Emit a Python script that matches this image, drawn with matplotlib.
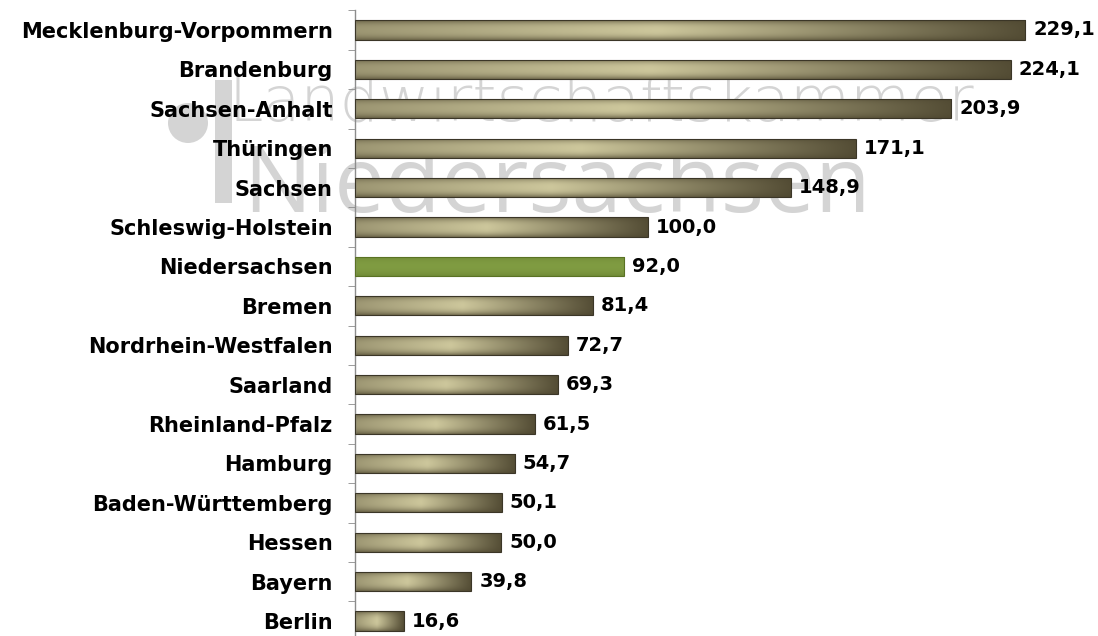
import numpy as np
import matplotlib
matplotlib.use('Agg')
import matplotlib.pyplot as plt
from matplotlib.patches import Ellipse, Rectangle

# values
states = ['Mecklenburg-Vorpommern', 'Brandenburg', 'Sachsen-Anhalt', 'Thüringen',
          'Sachsen', 'Schleswig-Holstein', 'Niedersachsen', 'Bremen',
          'Nordrhein-Westfalen', 'Saarland', 'Rheinland-Pfalz', 'Hamburg',
          'Baden-Württemberg', 'Hessen', 'Bayern', 'Berlin']
values = [229.1, 224.1, 203.9, 171.1, 148.9, 100.0, 92.0, 81.4,
          72.7, 69.3, 61.5, 54.7, 50.1, 50.0, 39.8, 16.6]
highlight = 'Niedersachsen'

W, H = 1098, 636
fig = plt.figure(figsize=(W / 100, H / 100), dpi=100)
fig.patch.set_facecolor('white')

def px(x, y):
    return x / W, 1 - y / H

# watermark (logo) behind the chart
wm = '#d4d4d4'
fig.patches.append(Ellipse(px(188, 123), 40 / W, 40 / H, transform=fig.transFigure,
                           facecolor=wm, edgecolor='none', zorder=-2))
fig.patches.append(Rectangle(px(215, 203), 17 / W, 123 / H, transform=fig.transFigure,
                             facecolor=wm, edgecolor='none', zorder=-2))
t1 = fig.text(*px(228, 121), 'Landwirtschaftskammer', fontsize=30, color=wm,
              family='DejaVu Sans', fontweight='light', ha='left', va='baseline',
              zorder=-2)
t2 = fig.text(*px(243, 212), 'Niedersachsen', fontsize=60, color=wm,
              family='Open Sans', ha='left', va='baseline', zorder=-2)
renderer = fig.canvas.get_renderer()
for t, target in [(t1, 745), (t2, 627)]:
    w = t.get_window_extent(renderer).width
    t.set_fontsize(t.get_fontsize() * target / w)

# axes: spine at x=355 px, rows ~39.4 px apart
ax_left = 355 / W
ax = fig.add_axes([ax_left, (H - 640.7) / H, 1 - ax_left, (640.7 - 10.3) / H])
ax.set_facecolor('none')

n = len(states)
ypos = np.arange(n)
bars = ax.barh(ypos, values, height=0.49, color='none', edgecolor='#3b3627',
               linewidth=0.8, zorder=3)

# gradient fill: light in the middle, darker towards the right end and edges
light = np.array([205, 199, 156]) / 255
dark = np.array([78, 71, 48]) / 255
tx = np.linspace(0, 1, 200)
hprof = np.interp(tx, [0, 0.45, 1], [0.62, 1.0, 0.05])
sv = np.linspace(0, 1, 40)
vprof = 1 - 0.65 * np.abs(2 * sv - 1) ** 2.5
k = vprof[:, None] * hprof[None, :]
grad = dark[None, None, :] + (light - dark)[None, None, :] * k[:, :, None]

g_light = np.array([128, 156, 66]) / 255
g_dark = np.array([98, 124, 44]) / 255
gk = (1 - 0.5 * np.abs(2 * sv - 1) ** 2)[:, None] * np.ones((1, 2))
ggrad = g_dark[None, None, :] + (g_light - g_dark)[None, None, :] * gk[:, :, None]

for name, b in zip(states, bars):
    x0, y0 = b.get_x(), b.get_y()
    w, h = b.get_width(), b.get_height()
    img = ggrad if name == highlight else grad
    if name == highlight:
        b.set_edgecolor('#5a7224')
    im = ax.imshow(img, extent=[x0, x0 + w, y0 + h, y0], aspect='auto',
                   interpolation='bilinear', zorder=2)
    im.set_clip_path(b)

for y, v in zip(ypos, values):
    ax.text(v + 2.7, y, f'{v:.1f}'.replace('.', ','), va='center', ha='left',
            fontsize=14, fontweight='bold', family='DejaVu Sans', zorder=4)

ax.set_xlim(0, 254)
ax.set_ylim(n - 0.5, -0.5)
ax.set_yticks(ypos)
ax.set_yticklabels(states, fontsize=15, fontweight='bold', family='DejaVu Sans')
ax.set_yticks(np.arange(n + 1) - 0.5, minor=True)
ax.tick_params(axis='y', which='major', length=0, pad=16)
ax.tick_params(axis='y', which='minor', length=5, color='#8c8c8c', direction='out')
ax.set_xticks([])
for s in ['top', 'right', 'bottom']:
    ax.spines[s].set_visible(False)
ax.spines['left'].set_color('#8c8c8c')
ax.spines['left'].set_linewidth(1)

fig.savefig('out.png', dpi=100, facecolor='white')
